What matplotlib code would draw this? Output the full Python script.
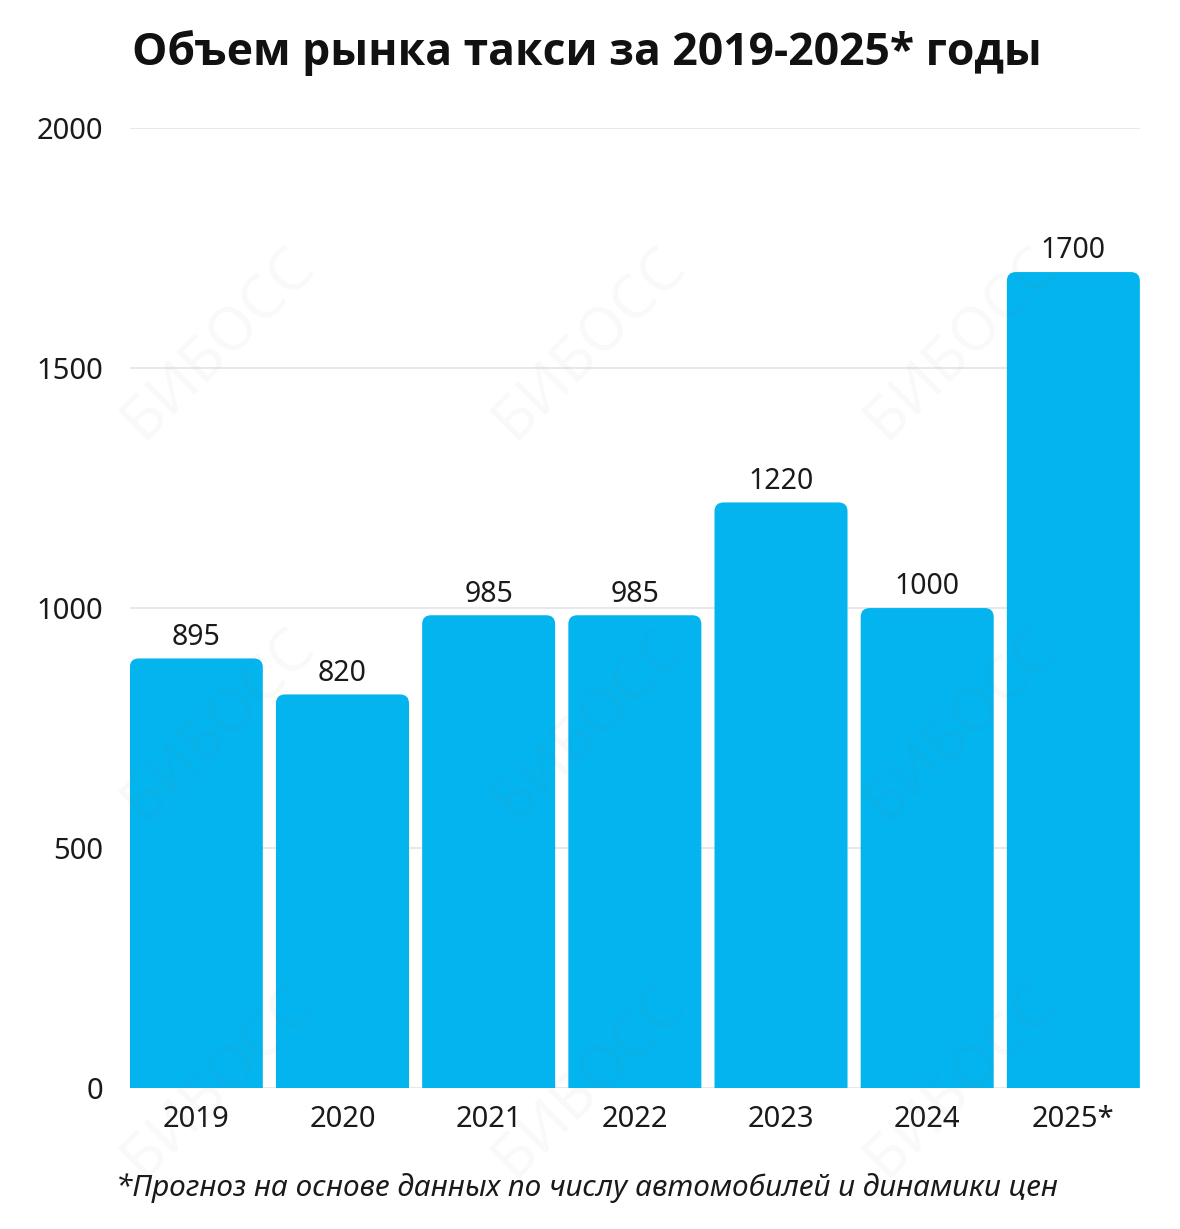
import matplotlib.pyplot as plt
from matplotlib.patches import FancyBboxPatch

years = ['2019', '2020', '2021', '2022', '2023', '2024', '2025*']
values = [895, 820, 985, 985, 1220, 1000, 1700]
yticks = [0, 500, 1000, 1500, 2000]

title = 'Объем рынка такси за 2019-2025* годы'
note = '*Прогноз на основе данных по числу автомобилей и динамики цен'

plt.rcParams['font.family'] = ['Noto Sans', 'DejaVu Sans']
bar_color = '#03B4EE'
w = 0.91

fig = plt.figure(figsize=(11.8, 12.29), dpi=100)
ax = fig.add_axes([0.110, 0.1147, 0.856, 0.7811])
ax.set_xlim(-w / 2, len(years) - 1 + w / 2)
ax.set_ylim(0, 2000)

# pixel -> data scale, for rounded top corners
fig.canvas.draw()
bb = ax.get_window_extent()
px_x = (len(years) - 1 + w) / bb.width
px_y = 2000 / bb.height
r = 9  # corner radius, px

for i, v in enumerate(values):
    x0 = i - w / 2
    # box goes below 0 and gets clipped, so only the top corners look round
    y0 = -60
    ax.add_patch(FancyBboxPatch((x0 + r * px_x, y0), w - 2 * r * px_x, v - y0 - r * px_y,
                                boxstyle=f'round,pad={r * px_x}',
                                mutation_aspect=px_y / px_x,
                                fc=bar_color, ec='none', zorder=3))
    ax.text(i, v + 14, str(v), ha='center', va='bottom', fontsize=20.5, color='#1a1a1a', zorder=4)

ax.set_xticks(range(len(years)))
ax.set_xticklabels(years, fontsize=21, color='#1a1a1a')
ax.set_yticks(yticks)
ax.set_yticklabels([str(t) for t in yticks], fontsize=21, color='#1a1a1a')
ax.tick_params(length=0, pad=12)
ax.tick_params(axis='y', pad=19)
ax.grid(axis='y', color='#e4e4e4', lw=1.2, zorder=0)
for s in ax.spines.values():
    s.set_visible(False)

fig.text(0.497, 0.957, title, ha='center', va='center', fontsize=32, fontweight='bold',
         family=['Open Sans', 'DejaVu Sans'], color='#111111')
fig.text(0.497, 0.033, note, ha='center', va='center', fontsize=21.4, style='italic', color='#1a1a1a')

# faint watermarks
for cx in [0.185, 0.50, 0.815]:
    for cy in [0.72, 0.41, 0.12]:
        fig.text(cx, cy, 'БИБОСС', ha='center', va='center', rotation=45, fontsize=44,
                 fontweight='bold', color='#888888', alpha=0.05, zorder=10)

fig.savefig('out.png', dpi=100)
